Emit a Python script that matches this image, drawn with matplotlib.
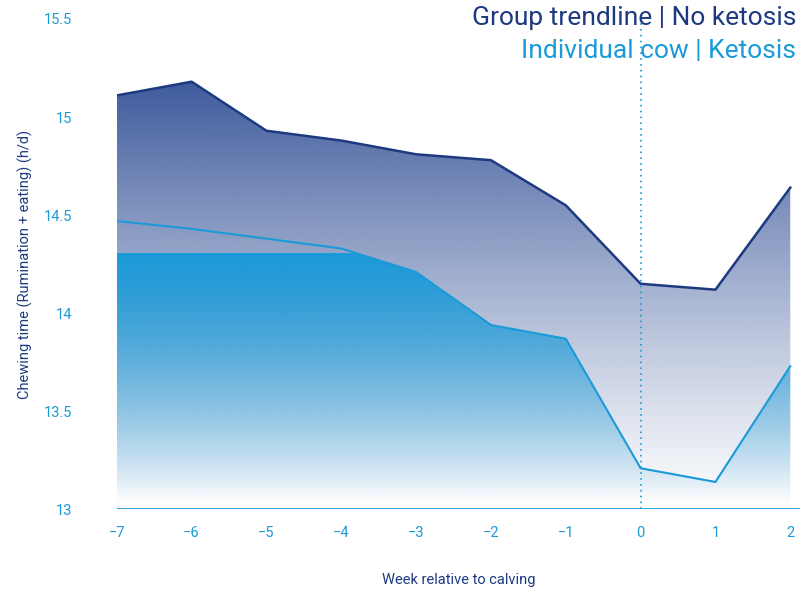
import numpy as np
import matplotlib
matplotlib.use("Agg")
import matplotlib.pyplot as plt
from matplotlib.patches import Polygon

plt.rcParams["font.family"] = ["Roboto", "DejaVu Sans"]
NAVY, SKY = "#1d3a80", "#1a9ad8"

weeks = [-7, -6, -5, -4, -3, -2, -1, 0, 1, 2]
group_no_ketosis = [15.11, 15.18, 14.93, 14.88, 14.81, 14.78, 14.55, 14.15, 14.12, 14.64]
cow_ketosis = [14.47, 14.43, 14.38, 14.33, 14.21, 13.94, 13.87, 13.21, 13.14, 13.73]
BASE = 13.0

fig = plt.figure(figsize=(8, 5.91), dpi=100)
ax = fig.add_axes([0.146, 0.138, 0.854, 0.83])
ax.set_xlim(-7, 2.13)
ax.set_ylim(13, 15.5)


def gradient_fill(xs, ys, color, a_top, top, fade_to, gamma=1.0):
    verts = [(xs[0], BASE)] + list(zip(xs, ys)) + [(xs[-1], BASE)]
    poly = Polygon(verts, closed=True, fc="none", ec="none")
    ax.add_patch(poly)
    rgb = matplotlib.colors.to_rgb(color)
    n = 256
    alpha = np.clip((np.linspace(BASE, top, n) - fade_to) / (top - fade_to), 0, 1) ** gamma * a_top
    img = np.zeros((n, 2, 4))
    img[..., :3] = rgb
    img[..., 3] = alpha[:, None]
    im = ax.imshow(img, extent=[xs[0], xs[-1], BASE, top], origin="lower",
                   aspect="auto", zorder=1, interpolation="bilinear")
    im.set_clip_path(poly)


gradient_fill(weeks, group_no_ketosis, "#2a4a92", 0.92, 15.2, 12.95, 1.2)
gradient_fill(weeks, cow_ketosis, SKY, 1.0, 14.3, 13.05, 0.9)
ax.plot(weeks, group_no_ketosis, color=NAVY, lw=1.8, zorder=3)
ax.plot(weeks, cow_ketosis, color=SKY, lw=1.5, zorder=3)
ax.axvline(0, color=SKY, lw=1.2, ls=(0, (1, 2.5)), zorder=4)
ax.axhline(13, color=SKY, lw=2, zorder=4)

for s in ax.spines.values():
    s.set_visible(False)
ax.set_xticks(weeks)
ax.set_xticklabels([str(w).replace("-", "\u2212") for w in weeks])
ax.set_yticks([13, 13.5, 14, 14.5, 15, 15.5])
ax.set_yticklabels(["13", "13.5", "14", "14.5", "15", "15.5"])
ax.tick_params(length=0, colors=SKY, labelsize=10.5)
ax.tick_params(axis="x", pad=12)
ax.tick_params(axis="y", pad=32)
ax.set_xlabel("Week relative to calving", color=NAVY, fontsize=10.5, labelpad=24)
ax.set_ylabel("Chewing time (Rumination + eating) (h/d)", color=NAVY, fontsize=10.5, labelpad=8)

fig.text(0.995, 0.97, "Group trendline | No ketosis", color=NAVY, fontsize=19,
         ha="right", va="center")
fig.text(0.995, 0.913, "Individual cow | Ketosis", color=SKY, fontsize=19,
         ha="right", va="center")
fig.savefig("out.png", dpi=100)
